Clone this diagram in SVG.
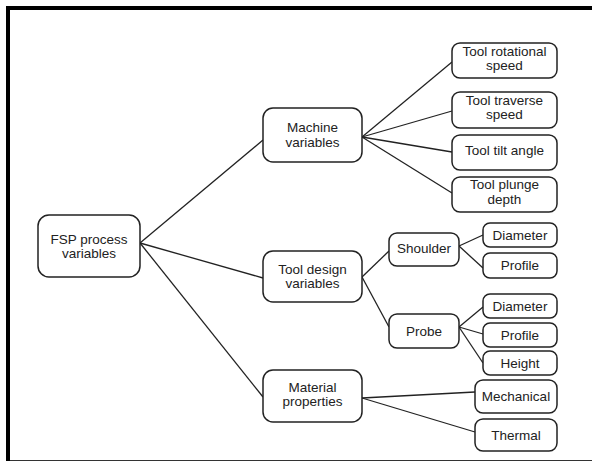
<svg xmlns="http://www.w3.org/2000/svg" width="592" height="462" viewBox="0 0 592 462">
<style>
.b{fill:#fff;stroke:#222;stroke-width:1.5}
.t{font-family:"Liberation Sans",Arial,sans-serif;font-size:13.5px;fill:#222;text-anchor:middle}
.c line{stroke:#222;stroke-width:1.3}
</style>
<rect width="592" height="462" fill="#fff"/>
<g id="frame">
<line x1="6" y1="8" x2="592" y2="8" stroke="#000" stroke-width="4"/>
<line x1="8" y1="6" x2="8" y2="461" stroke="#000" stroke-width="4"/>
<line x1="10" y1="460.5" x2="592" y2="460.5" stroke="#333" stroke-width="1"/>
</g>
<g class="c" id="connectors">
<line x1="140" y1="243" x2="263" y2="140"/>
<line x1="140" y1="243" x2="263" y2="278"/>
<line x1="140" y1="243" x2="263" y2="397"/>
<line x1="362" y1="137" x2="452" y2="62"/>
<line x1="362" y1="137" x2="452" y2="111"/>
<line x1="362" y1="137" x2="452" y2="152"/>
<line x1="362" y1="137" x2="452" y2="193"/>
<line x1="362" y1="277" x2="389" y2="251"/>
<line x1="362" y1="277" x2="389" y2="327"/>
<line x1="459" y1="246" x2="483" y2="235"/>
<line x1="459" y1="246" x2="483" y2="268"/>
<line x1="459" y1="327" x2="483" y2="307"/>
<line x1="459" y1="327" x2="483" y2="334"/>
<line x1="459" y1="327" x2="483" y2="363"/>
<line x1="362" y1="398" x2="475" y2="392"/>
<line x1="362" y1="398" x2="475" y2="432"/>
</g>
<g id="fsp"><rect class="b" x="38" y="215" width="102" height="62" rx="11"/><text class="t" x="89" y="244">FSP process</text><text class="t" x="89" y="258">variables</text></g>
<g id="machine"><rect class="b" x="263" y="108" width="99" height="54" rx="10"/><text class="t" x="312.5" y="132">Machine</text><text class="t" x="312.5" y="147">variables</text></g>
<g id="tooldesign"><rect class="b" x="263" y="251" width="99" height="51" rx="10"/><text class="t" x="312.5" y="274">Tool design</text><text class="t" x="312.5" y="288">variables</text></g>
<g id="material"><rect class="b" x="263" y="370" width="99" height="52" rx="10"/><text class="t" x="312.5" y="392">Material</text><text class="t" x="312.5" y="406">properties</text></g>
<g id="rotational"><rect class="b" x="452" y="43" width="105" height="35" rx="8"/><text class="t" x="504.5" y="56">Tool rotational</text><text class="t" x="504.5" y="70">speed</text></g>
<g id="traverse"><rect class="b" x="452" y="92" width="105" height="36" rx="8"/><text class="t" x="504.5" y="105">Tool traverse</text><text class="t" x="504.5" y="119">speed</text></g>
<g id="tilt"><rect class="b" x="452" y="135" width="105" height="35" rx="8"/><text class="t" x="504.5" y="155">Tool tilt angle</text></g>
<g id="plunge"><rect class="b" x="452" y="177" width="105" height="35" rx="8"/><text class="t" x="504.5" y="189">Tool plunge</text><text class="t" x="504.5" y="204">depth</text></g>
<g id="shoulder"><rect class="b" x="389" y="233" width="70" height="33" rx="8"/><text class="t" x="424" y="253">Shoulder</text></g>
<g id="probe"><rect class="b" x="389" y="314" width="70" height="34" rx="8"/><text class="t" x="424" y="336">Probe</text></g>
<g id="sdiameter"><rect class="b" x="483" y="223" width="74" height="24" rx="7"/><text class="t" x="520" y="240">Diameter</text></g>
<g id="sprofile"><rect class="b" x="483" y="253" width="74" height="25" rx="7"/><text class="t" x="520" y="270">Profile</text></g>
<g id="pdiameter"><rect class="b" x="483" y="294" width="74" height="24" rx="7"/><text class="t" x="520" y="311">Diameter</text></g>
<g id="pprofile"><rect class="b" x="483" y="323" width="74" height="24" rx="7"/><text class="t" x="520" y="340">Profile</text></g>
<g id="height"><rect class="b" x="483" y="351" width="74" height="24" rx="7"/><text class="t" x="520" y="368">Height</text></g>
<g id="mechanical"><rect class="b" x="475" y="380" width="82" height="33" rx="8"/><text class="t" x="516" y="401">Mechanical</text></g>
<g id="thermal"><rect class="b" x="475" y="419" width="82" height="32" rx="8"/><text class="t" x="516" y="440">Thermal</text></g>
</svg>
